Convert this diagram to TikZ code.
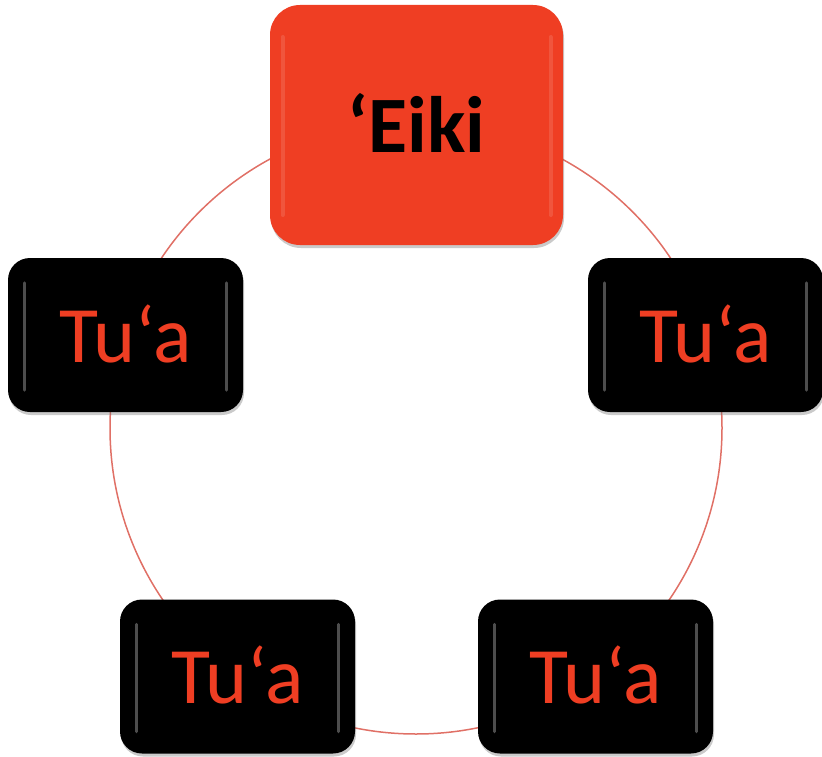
\documentclass[tikz,border=0pt]{standalone}
\usepackage{fontspec}
\setmainfont{Carlito}
\usetikzlibrary{shadows}
\definecolor{tred}{RGB}{239,62,35}
\definecolor{ring}{RGB}{224,112,102}
\begin{document}
\begin{tikzpicture}[x=1pt,y=-1pt,
  boss/.style={fill=tred, rounded corners=30pt, minimum width=293pt, minimum height=240pt,
    font=\fontsize{80}{80}\selectfont\bfseries, text=black,
    drop shadow={shadow xshift=1pt, shadow yshift=-3pt, opacity=0.35, fill=black!60}},
  member/.style={fill=black, rounded corners=22pt, minimum width=235pt, minimum height=154pt,
    font=\fontsize{80}{80}\selectfont, text=tred,
    drop shadow={shadow xshift=1pt, shadow yshift=-3pt, opacity=0.35, fill=black!60}},
  ringline/.style={draw=ring, line width=1.5pt},
  gloss/.style={draw=white, opacity=0.3, line width=3.5pt, line cap=round},
  softgloss/.style={draw=white, opacity=0.12, line width=4pt, line cap=round}]
\useasboundingbox (0,0) rectangle (822,757);
\coordinate (c) at (416,428);
\draw[ringline] (c) circle[radius=306pt];
\node[boss] (eiki) at (416.5,125) {\raisebox{5pt}{‘Eiki}};
\node[member] (t1) at (705.5,335) {\raisebox{3pt}{Tu‘a}};
\node[member] (t2) at (595.5,676.5) {\raisebox{3pt}{Tu‘a}};
\node[member] (t3) at (237.5,676.5) {\raisebox{3pt}{Tu‘a}};
\node[member] (t4) at (125.5,335) {\raisebox{3pt}{Tu‘a}};
\foreach \n in {t1,t2,t3,t4}{
  \draw[gloss] ([xshift=-101pt,yshift=-55pt]\n.center) -- ([xshift=-101pt,yshift=52pt]\n.center);
  \draw[gloss] ([xshift=101pt,yshift=-55pt]\n.center) -- ([xshift=101pt,yshift=52pt]\n.center);
}
\draw[softgloss] ([xshift=-134pt,yshift=-90pt]eiki.center) -- ([xshift=-134pt,yshift=88pt]eiki.center);
\draw[softgloss] ([xshift=134pt,yshift=-90pt]eiki.center) -- ([xshift=134pt,yshift=88pt]eiki.center);
\end{tikzpicture}
\end{document}
